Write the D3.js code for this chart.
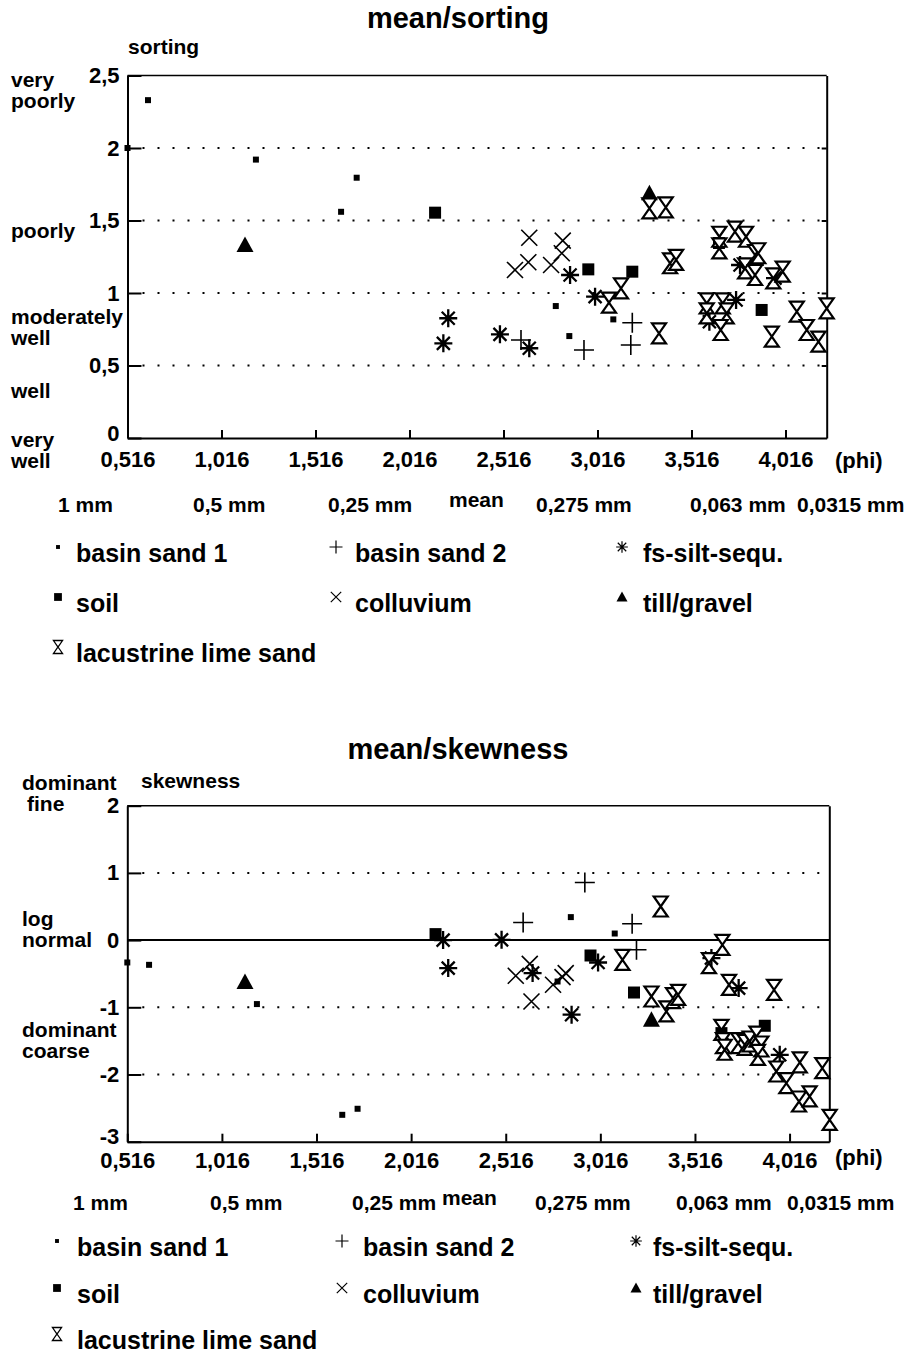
<!DOCTYPE html>
<html>
<head>
<meta charset="utf-8">
<script src="https://d3js.org/d3.v7.min.js"></script>
<style>
  body { margin: 0; background: #fff; }
  text { font-family: "Liberation Sans", Arial, Helvetica, sans-serif; font-weight: bold; fill: #000; }
</style>
</head>
<body>
<div id="container"></div>
<script>
let w = 918;
let h = 1353;

// ---- data: [mean (phi), value] ----
// mean/sorting
let sortBasin1 = [[0.516,2.0],[0.625,2.33],[1.199,1.92],[1.652,1.56],[1.735,1.795],[2.794,0.91],[2.866,0.703],[3.100,0.818]];
let sortBasin2 = [[2.609,0.676],[2.944,0.607],[3.193,0.641],[3.201,0.795]];
let sortSilt = [[2.196,0.653],[2.222,0.826],[2.497,0.715],[2.653,0.619],[2.870,1.124],[3.003,0.975],[3.611,0.802],[3.753,0.952],[3.774,1.193],[3.960,1.103]];
let sortSoil = [[2.152,1.554],[2.967,1.163],[3.201,1.147],[3.662,1.345],[3.889,0.883]];
let sortColl = [[2.577,1.159],[2.648,1.212],[2.653,1.381],[2.769,1.193],[2.826,1.274],[2.831,1.361]];
let sortTill = [[1.141,1.331],[3.292,1.688]];
let sortLime = [[3.292,1.584],[3.379,1.591],[3.402,1.205],[3.434,1.228],[3.141,1.032],[3.077,0.933],[3.343,0.722],
  [3.597,0.929],[3.597,0.860],[3.682,0.929],[3.703,0.860],[3.671,0.745],[3.664,1.388],[3.664,1.308],[3.747,1.423],
  [3.806,1.388],[3.801,1.170],[3.854,1.262],[3.871,1.274],[3.854,1.124],[3.951,1.101],[4.001,1.147],[3.943,0.699],
  [4.076,0.871],[4.129,0.745],[4.191,0.664],[4.235,0.894]];

// mean/skewness
let skewBasin1 = [[0.516,-0.333],[0.631,-0.368],[1.201,-0.952],[1.652,-2.60],[1.733,-2.51],[2.790,-0.616],[2.860,0.342],[3.092,0.098]];
let skewBasin2 = [[2.608,0.262],[2.934,0.857],[3.184,0.243],[3.207,-0.144]];
let skewSilt = [[2.185,0.0],[2.212,-0.417],[2.494,0.004],[2.658,-0.49],[2.864,-1.11],[3.004,-0.333],[3.603,-0.268],[3.747,-0.714],[3.964,-1.707]];
let skewSoil = [[2.145,0.089],[2.964,-0.229],[3.194,-0.78],[3.656,-1.384],[3.885,-1.275]];
let skewColl = [[2.569,-0.531],[2.643,-0.353],[2.652,-0.913],[2.766,-0.665],[2.816,-0.551],[2.833,-0.491]];
let skewTill = [[1.138,-0.625],[3.286,-1.186]];
let skewLime = [[3.335,0.50],[3.133,-0.293],[3.286,-0.839],[3.365,-1.062],[3.400,-0.863],[3.427,-0.814],[3.590,-0.342],
  [3.661,-0.07],[3.696,-0.665],[3.934,-0.74],[3.656,-1.335],[3.664,-1.533],[3.673,-1.632],[3.744,-1.533],[3.779,-1.558],
  [3.805,-1.509],[3.841,-1.435],[3.867,-1.583],[3.849,-1.707],[3.946,-1.955],[3.999,-2.128],[4.070,-1.821],[4.189,-1.905],
  [4.066,-2.402],[4.122,-2.327],[4.228,-2.674]];

// ticks and labels
let xTicks = [0.516, 1.016, 1.516, 2.016, 2.516, 3.016, 3.516, 4.016];
let sortTicks = [0, 0.5, 1, 1.5, 2, 2.5];
let skewTicks = [-3, -2, -1, 0, 1, 2];
let sizeLabels = ["1 mm", "0,5 mm", "0,25 mm", "mean", "0,275 mm", "0,063 mm", "0,0315 mm"];
let categories = ["basin sand 1", "basin sand 2", "fs-silt-sequ.", "soil", "colluvium", "till/gravel", "lacustrine lime sand"];
let symbolTypes = ["basin1", "basin2", "silt", "soil", "coll", "till", "lime"];
let sortClasses = [["very", "poorly"], ["poorly"], ["moderately", "well"], ["well"], ["very", "well"]];
let skewClasses = [["dominant", "fine"], ["log", "normal"], ["dominant", "coarse"]];

let sortSeries = [sortBasin1, sortBasin2, sortSilt, sortSoil, sortColl, sortTill, sortLime];
let skewSeries = [skewBasin1, skewBasin2, skewSilt, skewSoil, skewColl, skewTill, skewLime];

// comma decimals like the original
let fmt = function(v){ return String(v).replace(".", ","); };

let viz = d3.select("#container")
  .append("svg")
    .attr("width", w)
    .attr("height", h)
    .style("background-color", "white")
;

// marker shapes, drawn around 0,0
function symbolPath(type, s){
  if(type == "basin1") return "M"+(-3*s)+","+(-3*s)+"h"+(6*s)+"v"+(6*s)+"h"+(-6*s)+"Z";
  if(type == "basin2") return "M"+(-10*s)+",0H"+(10*s)+"M0,"+(-10*s)+"V"+(10*s);
  if(type == "silt") return "M"+(-9*s)+",0H"+(9*s)+"M0,"+(-9*s)+"V"+(9*s)+
    "M"+(-6.5*s)+","+(-6.5*s)+"L"+(6.5*s)+","+(6.5*s)+"M"+(-6.5*s)+","+(6.5*s)+"L"+(6.5*s)+","+(-6.5*s);
  if(type == "soil") return "M"+(-6*s)+","+(-6*s)+"h"+(12*s)+"v"+(12*s)+"h"+(-12*s)+"Z";
  if(type == "coll") return "M"+(-8*s)+","+(-8*s)+"L"+(8*s)+","+(8*s)+"M"+(-8*s)+","+(8*s)+"L"+(8*s)+","+(-8*s);
  if(type == "till") return "M0,"+(-8.5*s)+"L"+(8.5*s)+","+(7*s)+"L"+(-8.5*s)+","+(7*s)+"Z";
  // lime: hourglass
  return "M"+(-7*s)+","+(-10*s)+"H"+(7*s)+"L0,0Z M0,0L"+(7*s)+","+(10*s)+"H"+(-7*s)+"Z";
}

function styleSymbol(sel, type, s){
  sel.attr("d", symbolPath(type, s));
  if(type == "basin1" || type == "soil" || type == "till"){
    sel.attr("fill", "black").attr("stroke", "none");
  }else if(type == "lime"){
    sel.attr("fill", "white").attr("stroke", "black").attr("stroke-width", s < 1 ? 1.3 : 2.2).attr("stroke-linejoin", "miter");
  }else if(type == "silt"){
    sel.attr("fill", "none").attr("stroke", "black").attr("stroke-width", s < 1 ? 1.2 : 2.3);
  }else{
    sel.attr("fill", "none").attr("stroke", "black").attr("stroke-width", s < 1 ? 1.2 : 1.6);
  }
}

function drawChart(cfg){
  let g = viz.append("g").attr("class", cfg.name);
  let x = cfg.x, y = cfg.y;
  let x0 = x.range()[0], x1 = x.range()[1];
  let yTop = y.range()[1], yBot = y.range()[0];

  // dotted grid lines
  g.selectAll(".grid").data(cfg.grid).enter()
    .append("line")
      .attr("x1", x0 + 15).attr("x2", x1)
      .attr("y1", function(d){ return y(d); })
      .attr("y2", function(d){ return y(d); })
      .attr("stroke", "black")
      .attr("stroke-width", 2)
      .attr("stroke-dasharray", "2,13")
  ;
  if(cfg.zeroLine){
    g.append("line")
      .attr("x1", x0).attr("x2", x1)
      .attr("y1", y(0)).attr("y2", y(0))
      .attr("stroke", "black").attr("stroke-width", 2);
  }

  // frame: top and right
  g.append("line").attr("x1", x0).attr("x2", x1).attr("y1", yTop).attr("y2", yTop)
    .attr("stroke", "black").attr("stroke-width", 1.6);
  let rightAxis = d3.axisRight(y).tickValues(cfg.rightTicks).tickSizeInner(-5).tickSizeOuter(0).tickFormat("");
  g.append("g").attr("transform", "translate(" + x1 + ",0)").call(rightAxis);

  // bottom axis, ticks pointing inward
  let xAxis = d3.axisBottom(x).tickValues(xTicks).tickSizeInner(-8).tickSizeOuter(0).tickPadding(cfg.xPad).tickFormat(fmt);
  g.append("g").attr("class", "xaxis").attr("transform", "translate(0," + yBot + ")").call(xAxis);

  // left axis
  let yAxis = d3.axisLeft(y).tickValues(cfg.yTicks).tickSizeInner(-14).tickSizeOuter(0).tickPadding(8).tickFormat(fmt);
  g.append("g").attr("class", "yaxis").attr("transform", "translate(" + x0 + ",0)").call(yAxis);

  g.selectAll(".domain").attr("stroke", "black").attr("stroke-width", 2);
  g.selectAll(".tick line").attr("stroke", "black").attr("stroke-width", 2);
  g.selectAll(".tick text").style("font-size", "22px").style("font-family", "Liberation Sans, Arial, sans-serif").style("font-weight", "bold");
  // lowest y label sits a little high, as in the original
  g.selectAll(".yaxis .tick text").filter(function(d){ return d == cfg.yTicks[0]; }).attr("dy", "0.1em");

  g.append("text").text("(phi)").attr("x", 835).attr("y", yBot + cfg.phiDy).style("font-size", "22px");

  // the data points
  cfg.series.forEach(function(data, i){
    let type = symbolTypes[i];
    g.selectAll(".pt-" + type).data(data).enter()
      .append("path")
        .attr("class", "pt-" + type)
        .attr("transform", function(d){ return "translate(" + x(d[0]) + "," + y(d[1]) + ")"; })
        .each(function(){ styleSymbol(d3.select(this), type, 1); })
    ;
  });

  // size row under the axis
  g.selectAll(".size").data(sizeLabels).enter()
    .append("text")
      .attr("x", function(d, i){ return cfg.sizeX[i]; })
      .attr("y", function(d){ return d == "mean" ? cfg.sizeY - 5 : cfg.sizeY; })
      .style("font-size", "21px")
      .text(function(d){ return d; })
  ;

  // legend
  let leg = g.selectAll(".leg").data(categories).enter()
    .append("g")
      .attr("class", "leg")
  ;
  leg.append("path")
    .attr("transform", function(d, i){
      return "translate(" + cfg.legSymX[i % 3] + "," + (cfg.legY[Math.floor(i / 3)] - 15) + ")";
    })
    .each(function(d, i){ styleSymbol(d3.select(this), symbolTypes[i], 0.65); });
  leg.append("text")
    .attr("x", function(d, i){ return cfg.legTextX[i % 3]; })
    .attr("y", function(d, i){ return cfg.legY[Math.floor(i / 3)]; })
    .style("font-size", "25px")
    .text(function(d){ return d; });

  // titles and labels
  g.append("text").text(cfg.title).attr("x", 458).attr("y", cfg.titleY)
    .attr("text-anchor", "middle").style("font-size", "29px");
  g.append("text").text(cfg.yName).attr("x", cfg.yNamePos[0]).attr("y", cfg.yNamePos[1]).style("font-size", "21px");

  // class names on the left, stacked tightly
  let cls = g.selectAll(".cls").data(cfg.classes).enter()
    .append("text")
      .attr("class", "cls")
      .attr("y", function(d, i){ return cfg.classY[i]; })
      .style("font-size", "21px")
  ;
  cls.selectAll("tspan").data(function(d){ return d; }).enter()
    .append("tspan")
      .attr("x", function(d){ return d == "fine" ? 27 : cfg.classX; })
      .attr("dy", function(d, i){ return i == 0 ? 0 : cfg.lineGap; })
      .text(function(d){ return d; })
  ;
}

drawChart({
  name: "sorting",
  title: "mean/sorting",
  titleY: 28,
  yName: "sorting",
  yNamePos: [128, 54],
  x: d3.scaleLinear().domain([0.516, 4.235]).range([127.5, 826.7]),
  y: d3.scaleLinear().domain([0, 2.5]).range([438, 75.5]),
  yTicks: sortTicks,
  grid: [0.5, 1, 1.5, 2],
  rightTicks: [0.5, 1, 1.5, 2],
  zeroLine: false,
  xPad: 13,
  phiDy: 30,
  series: sortSeries,
  sizeX: [58, 193, 328, 449, 536, 690, 797],
  sizeY: 512,
  legSymX: [58, 336, 622],
  legTextX: [76, 355, 643],
  legY: [562, 612, 662],
  classes: sortClasses,
  classX: 11,
  classY: [87, 238, 324, 398, 447],
  lineGap: 21
});

drawChart({
  name: "skewness",
  title: "mean/skewness",
  titleY: 759,
  yName: "skewness",
  yNamePos: [141, 788],
  x: d3.scaleLinear().domain([0.516, 4.226]).range([127.3, 829.3]),
  y: d3.scaleLinear().domain([-3, 2]).range([1141.7, 805.7]),
  yTicks: skewTicks,
  grid: [1, -1, -2],
  rightTicks: [],
  zeroLine: true,
  xPad: 11,
  phiDy: 23,
  series: skewSeries,
  sizeX: [73, 210, 352, 442, 535, 676, 787],
  sizeY: 1210,
  legSymX: [57, 342, 636],
  legTextX: [77, 363, 653],
  legY: [1256, 1303, 1349],
  classes: skewClasses,
  classX: 22,
  classY: [790, 926, 1037],
  lineGap: 21
});
</script>
</body>
</html>
